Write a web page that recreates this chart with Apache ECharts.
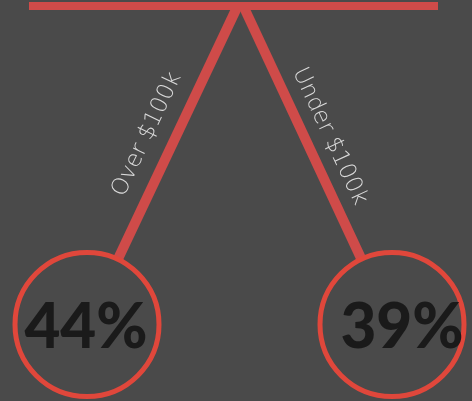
<!DOCTYPE html>
<html><head><meta charset="utf-8">
<script src="https://cdn.jsdelivr.net/npm/echarts@6/dist/echarts.min.js"></script>
<style>html,body{margin:0;padding:0;background:#4a4a4a}#c{width:472px;height:401px}</style>
</head><body><div id="c"></div>
<script>
// ---- data ----
const categories = ['Over $100k', 'Under $100k'];
const shares = [44, 39];
const valueLabels = shares.map(v => v + '%');

// ---- style / layout constants ----
const RING_R = 72;
const LEG_COLOR = '#cf4b49';
const RING_COLOR = '#e0473b';
const BEAM_Y = 6;
const valueShiftX = [-1, 10];
const LABEL_ALONG = 0.45;
const LABEL_OFFSET = [27, 23];

const chart = echarts.init(document.getElementById('c'), null, {renderer: 'canvas'});

function renderItem(params, api) {
  const i = params.dataIndex;
  const c = api.coord([api.value(0), 0]);
  const a = api.coord([0, 0]);
  const b = api.coord([categories.length - 1, 0]);
  const hub = [(a[0] + b[0]) / 2 + 1, api.coord([0, 1])[1]];
  const dx = c[0] - hub[0], dy = c[1] - hub[1];
  const len = Math.hypot(dx, dy);
  const ux = dx / len, uy = dy / len;
  const t0 = (BEAM_Y - hub[1]) / uy;
  const start = [hub[0] + ux * t0, hub[1] + uy * t0];
  const end = [c[0] - ux * RING_R, c[1] - uy * RING_R];
  const side = ux < 0 ? -1 : 1;
  const nx = side * Math.abs(uy), ny = -Math.abs(ux);
  const along = len * LABEL_ALONG;
  const lx = hub[0] + ux * along + nx * LABEL_OFFSET[i];
  const ly = hub[1] + uy * along + ny * LABEL_OFFSET[i];
  const ang = Math.atan2(Math.abs(uy), Math.abs(ux));
  const rot = side < 0 ? ang : -ang;
  return {
    type: 'group',
    children: [
      {type: 'line', shape: {x1: start[0], y1: start[1], x2: end[0], y2: end[1]},
       style: {stroke: LEG_COLOR, lineWidth: 10, lineCap: 'butt'}},
      {type: 'circle', shape: {cx: c[0], cy: c[1], r: RING_R},
       style: {fill: 'none', stroke: RING_COLOR, lineWidth: 5}},
      {type: 'text', x: c[0] + valueShiftX[i], y: c[1] + 3,
       style: {text: valueLabels[i], fill: '#1a1a1a', fontSize: 62, fontWeight: 900,
               fontFamily: 'Lato', align: 'center', verticalAlign: 'middle'}},
      {type: 'text', x: lx, y: ly, rotation: rot,
       style: {text: categories[i], fill: '#dadada', fontSize: 23, fontWeight: 200,
               fontFamily: 'DejaVu Sans', align: 'center', verticalAlign: 'middle'}}
    ]
  };
}

chart.setOption({
  backgroundColor: '#4a4a4a',
  animation: false,
  grid: {left: 87, right: 80, top: -6, bottom: 76.5},
  xAxis: {type: 'category', data: categories, boundaryGap: false, show: false},
  yAxis: {type: 'value', min: 0, max: 1, show: false},
  graphic: [{type: 'rect', shape: {x: 29, y: 2, width: 409, height: 8},
             style: {fill: LEG_COLOR}, z: 100}],
  series: [{
    type: 'custom',
    renderItem: renderItem,
    data: shares.map((v, i) => [i, v]),
    clip: false
  }]
});
</script></body></html>
